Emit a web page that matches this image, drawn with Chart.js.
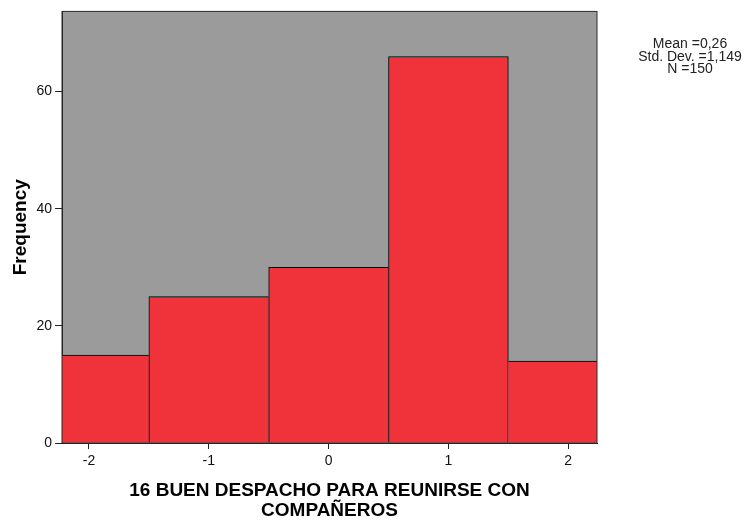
<!DOCTYPE html>
<html>
<head>
<meta charset="utf-8">
<script src="https://cdn.jsdelivr.net/npm/chart.js@4/dist/chart.umd.min.js"></script>
<style>
html,body{margin:0;padding:0;background:#fff}
#wrap{position:relative;width:745px;height:524px}
#stats{position:absolute;left:620px;top:37px;width:140px;text-align:center;font:14px "Liberation Sans",Arial,sans-serif;line-height:12.5px;color:#222}
</style>
</head>
<body>
<div id="wrap">
  <canvas id="c" width="745" height="524"></canvas>
  <div id="stats"></div>
</div>
<script>
// histogram bins (centre of each bin) and counts
const binCenters = [-2, -1, 0, 1, 2];
const frequencies = [15, 25, 30, 66, 14];
const xTicks = [-2, -1, 0, 1, 2];
const yTicks = [0, 20, 40, 60];
const xRange = [-2.225, 2.24];
const yMax = 73.7;
const xTitle = ["16 BUEN DESPACHO PARA REUNIRSE CON", "COMPAÑEROS"];
const yTitle = "Frequency";
const statLines = ["Mean =0,26", "Std. Dev. =1,149", "N =150"];

const FONT = '"Liberation Sans", Arial, sans-serif';

document.getElementById("stats").innerHTML = statLines.join("<br>");

// gray plot area + dark frame round it
const plotFrame = {
  id: "plotFrame",
  beforeDraw(chart) {
    const {ctx, chartArea: a} = chart;
    ctx.save();
    ctx.fillStyle = "#9b9b9b";
    ctx.fillRect(a.left, a.top, a.right - a.left, a.bottom - a.top);
    ctx.restore();
  },
  afterDatasetsDraw(chart) {
    const {ctx, chartArea: a} = chart;
    ctx.save();
    ctx.strokeStyle = "#2a2a2a";
    ctx.lineWidth = 1;
    ctx.strokeRect(a.left, a.top, a.right - a.left, a.bottom - a.top);
    ctx.restore();
  }
};

// shared edge between two bars is drawn once, by the taller bar
function barBorder(c) {
  const i = c.dataIndex, f = frequencies;
  return {
    top: 1, bottom: 0,
    left: (i === 0 || f[i] >= f[i-1]) ? 1 : 0,
    right: (i === f.length-1 || f[i] > f[i+1]) ? 1 : 0
  };
}

const axisGrid = {display:true, drawOnChartArea:false, drawTicks:true, offset:false, color:"#222", tickColor:"#222"};

new Chart(document.getElementById("c"), {
  type: "bar",
  data: {
    datasets: [{
      data: binCenters.map((x,i)=>({x, y: frequencies[i]})),
      backgroundColor: "#f0323a",
      borderColor: "#000",
      borderWidth: barBorder,
      borderSkipped: false,
      barPercentage: 1,
      categoryPercentage: 1
    }]
  },
  options: {
    responsive: false,
    animation: false,
    devicePixelRatio: 1,
    layout: { padding: {top:10, right:148, left:0, bottom:0} },
    plugins: { legend:{display:false}, tooltip:{enabled:false} },
    scales: {
      x: {
        type: "linear", min: xRange[0], max: xRange[1], offset: false,
        afterBuildTicks: s => { s.ticks = xTicks.map(v=>({value:v})); },
        afterFit: s => { s.height = 81; },
        grid: {...axisGrid, tickLength:6},
        border: {display:true, color:"#222", width:1},
        ticks: {padding:4, color:"#111", font:{family:FONT, size:14}, maxRotation:0, autoSkip:false},
        title: {display:true, text:xTitle, color:"#000",
          font:{family:FONT, size:19, weight:"bold", lineHeight:"20px"}, padding:{top:0, bottom:3}}
      },
      y: {
        min: 0, max: yMax,
        afterBuildTicks: s => { s.ticks = yTicks.map(v=>({value:v})); },
        afterFit: s => { s.width = 62; },
        grid: {...axisGrid, tickLength:7},
        border: {display:true, color:"#222", width:1},
        ticks: {padding:3, color:"#111", font:{family:FONT, size:14}},
        title: {display:true, text:yTitle, color:"#000",
          font:{family:FONT, size:19, weight:"bold", lineHeight:"20px"}, padding:{top:11, bottom:0}}
      }
    }
  },
  plugins: [plotFrame]
});
</script>
</body>
</html>
